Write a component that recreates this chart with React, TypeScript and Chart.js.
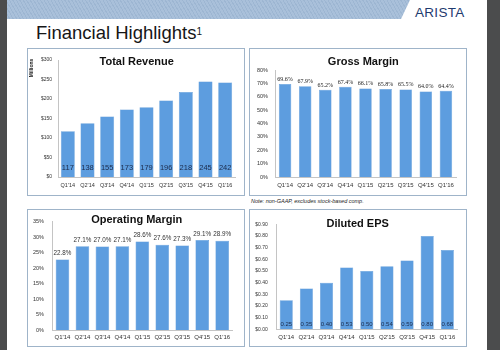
import React, { useEffect, useRef } from "react";
import { Chart, registerables } from "chart.js";

Chart.register(...registerables);

const quarters = ["Q1'14", "Q2'14", "Q3'14", "Q4'14", "Q1'15", "Q2'15", "Q3'15", "Q4'15", "Q1'16"];
const revenue = [117, 138, 155, 173, 179, 196, 218, 245, 242];
const grossMargin = [69.6, 67.9, 65.2, 67.4, 66.1, 65.8, 65.5, 64.0, 64.4];
const operatingMargin = [22.8, 27.1, 27.0, 27.1, 28.6, 27.6, 27.3, 29.1, 28.9];
const dilutedEps = [0.25, 0.35, 0.4, 0.53, 0.5, 0.54, 0.59, 0.8, 0.68];

const BAR = "#5d9ddf";
const AXIS = "#c4c4c4";
const SANS = "Arial, 'Liberation Sans', Helvetica, sans-serif";
const SERIF = "'Liberation Serif', 'Times New Roman', serif";

type Cfg = {
  title: string;
  titleX: number;
  titleY: number;
  data: number[];
  max: number;
  step: number;
  fmtTick: (v: number) => string;
  fmtVal: (v: number) => string;
  inside: boolean;
  valueFont: string;
  valueColor: string;
  valueOffset: number;
  width: number;
  height: number;
  left: number;
  right: number;
  top: number;
  bottom: number;
  xPad: number;
  yPad: number;
  xFont: number;
  yFont: number;
  barPct: number;
  yLabel?: string;
};

function makeOverlay(cfg: Cfg) {
  return {
    id: "overlay",
    afterDatasetsDraw(chart: any) {
      const ctx = chart.ctx;
      ctx.save();
      const meta = chart.getDatasetMeta(0);
      ctx.font = cfg.valueFont;
      ctx.fillStyle = cfg.valueColor;
      ctx.textAlign = "center";
      ctx.textBaseline = "middle";
      meta.data.forEach((bar: any, i: number) => {
        const p = bar.getProps(["x", "y", "base"], true);
        const y = cfg.inside ? p.base - cfg.valueOffset : p.y - cfg.valueOffset;
        ctx.fillText(cfg.fmtVal(cfg.data[i]), p.x, y);
      });
      ctx.font = `bold 11px ${SANS}`;
      ctx.fillStyle = "#111111";
      ctx.fillText(cfg.title, cfg.titleX, cfg.titleY);
      if (cfg.yLabel) {
        ctx.translate(4, 19);
        ctx.rotate(-Math.PI / 2);
        ctx.font = `bold 5px ${SANS}`;
        ctx.fillStyle = "#222222";
        ctx.fillText(cfg.yLabel, 0, 0);
      }
      ctx.restore();
    },
  };
}

function BarPanel({ cfg }: { cfg: Cfg }) {
  const ref = useRef<HTMLCanvasElement | null>(null);
  useEffect(() => {
    if (!ref.current) return;
    const fmtTick = cfg.fmtTick;
    const chart = new Chart(ref.current, {
      type: "bar",
      data: {
        labels: quarters,
        datasets: [
          {
            data: cfg.data,
            backgroundColor: BAR,
            borderColor: "#4f8fd3",
            borderWidth: 0.5,
            barPercentage: cfg.barPct,
            categoryPercentage: 1,
          },
        ],
      },
      options: {
        animation: false,
        responsive: false,
        devicePixelRatio: 1,
        layout: { padding: { left: 0, right: cfg.width - cfg.right, top: cfg.top, bottom: 0 } },
        plugins: {
          legend: { display: false },
          tooltip: { enabled: false },
          title: { display: false },
        },
        scales: {
          x: {
            grid: { display: false, drawTicks: false },
            border: { color: AXIS, width: 1 },
            ticks: {
              padding: cfg.xPad,
              color: "#333333",
              font: { size: cfg.xFont, family: SANS },
              maxRotation: 0,
              autoSkip: false,
            },
            afterFit: (s: any) => {
              s.height = cfg.height - cfg.bottom;
            },
          },
          y: {
            min: 0,
            max: cfg.max,
            grid: { display: false, drawTicks: false },
            border: { color: AXIS, width: 1 },
            ticks: {
              stepSize: cfg.step,
              padding: cfg.yPad,
              color: "#333333",
              font: { size: cfg.yFont, family: SANS },
              callback: (v: any) => fmtTick(Number(v)),
            },
            afterFit: (s: any) => {
              s.width = cfg.left;
            },
          },
        },
      },
      plugins: [makeOverlay(cfg)],
    });
    return () => chart.destroy();
  }, [cfg]);
  return <canvas ref={ref} width={cfg.width} height={cfg.height} style={{ display: "block", width: cfg.width, height: cfg.height }} />;
}

const revenueCfg: Cfg = {
  title: "Total Revenue",
  titleX: 108.7,
  titleY: 12.7,
  data: revenue,
  max: 300,
  step: 50,
  fmtTick: (v) => "$" + v,
  fmtVal: (v) => String(v),
  inside: true,
  valueFont: `7.5px ${SANS}`,
  valueColor: "#1b2a4a",
  valueOffset: 9.4,
  width: 216,
  height: 146,
  left: 30,
  right: 207,
  top: 11,
  bottom: 128,
  xPad: 5,
  yPad: 6,
  xFont: 5.5,
  yFont: 5,
  barPct: 0.71,
  yLabel: "Millions",
};

const grossCfg: Cfg = {
  title: "Gross Margin",
  titleX: 113.3,
  titleY: 12.7,
  data: grossMargin,
  max: 80,
  step: 10,
  fmtTick: (v) => v + "%",
  fmtVal: (v) => v.toFixed(1) + "%",
  inside: false,
  valueFont: `6px ${SERIF}`,
  valueColor: "#222222",
  valueOffset: 4.7,
  width: 216,
  height: 146,
  left: 25,
  right: 206,
  top: 21,
  bottom: 128,
  xPad: 5,
  yPad: 7,
  xFont: 6,
  yFont: 5.5,
  barPct: 0.62,
};

const opCfg: Cfg = {
  title: "Operating Margin",
  titleX: 108.7,
  titleY: 10,
  data: operatingMargin,
  max: 35,
  step: 5,
  fmtTick: (v) => v + "%",
  fmtVal: (v) => v.toFixed(1) + "%",
  inside: false,
  valueFont: `6.3px ${SANS}`,
  valueColor: "#333333",
  valueOffset: 6,
  width: 216,
  height: 136,
  left: 24.5,
  right: 204.2,
  top: 8.3,
  bottom: 120,
  xPad: 3.7,
  yPad: 8.5,
  xFont: 6,
  yFont: 5.5,
  barPct: 0.68,
};

const epsCfg: Cfg = {
  title: "Diluted EPS",
  titleX: 107.7,
  titleY: 14,
  data: dilutedEps,
  max: 0.9,
  step: 0.1,
  fmtTick: (v) => "$" + v.toFixed(2),
  fmtVal: (v) => v.toFixed(2),
  inside: true,
  valueFont: `6px ${SANS}`,
  valueColor: "#1b2a4a",
  valueOffset: 5.3,
  width: 216,
  height: 136,
  left: 26.2,
  right: 207.4,
  top: 14.3,
  bottom: 119.3,
  xPad: 4.4,
  yPad: 8.5,
  xFont: 6,
  yFont: 5,
  barPct: 0.65,
};

const panelStyle = (left: number, top: number, w: number, h: number): React.CSSProperties => ({
  position: "absolute",
  left,
  top,
  width: w,
  height: h,
  border: "1px solid #9fb4c9",
  background: "#ffffff",
  boxSizing: "content-box",
});

export default function App() {
  return (
    <div
      style={{
        position: "fixed",
        left: 0,
        top: 0,
        width: 500,
        height: 350,
        overflow: "hidden",
        background: "#ffffff",
        fontFamily: SANS,
      }}
    >
      <div style={{ position: "absolute", left: 0, top: 0, width: 7, height: 350, background: "#4b4c4d" }} />
      <div style={{ position: "absolute", left: 487, top: 0, width: 13, height: 350, background: "#4b4c4d" }} />
      <div
        style={{
          position: "absolute",
          left: 7,
          top: 0,
          width: 403,
          height: 19,
          background: "repeating-linear-gradient(60deg, #a9c0da 0px, #a9c0da 2px, #9db6d2 2px, #9db6d2 3px)",
          clipPath: "polygon(0 0, 100% 0, calc(100% - 9px) 100%, 0 100%)",
        }}
      />
      <div
        style={{
          position: "absolute",
          left: 415,
          top: 5,
          fontSize: 13.5,
          lineHeight: "15px",
          color: "#1f3b6f",
          letterSpacing: 0.3,
          fontFamily: SANS,
        }}
      >
        ARISTA
      </div>
      <div
        style={{
          position: "absolute",
          left: 36,
          top: 22,
          fontSize: 18.5,
          lineHeight: "22px",
          color: "#161616",
          whiteSpace: "nowrap",
        }}
      >
        Financial Highlights<sup style={{ fontSize: 10, verticalAlign: "top", position: "relative", top: -1 }}>1</sup>
      </div>
      <div style={panelStyle(27, 48, 216, 146)}>
        <BarPanel cfg={revenueCfg} />
      </div>
      <div style={panelStyle(249, 48, 216, 146)}>
        <BarPanel cfg={grossCfg} />
      </div>
      <div
        style={{
          position: "absolute",
          left: 251,
          top: 198,
          fontSize: 5.5,
          fontStyle: "italic",
          color: "#222222",
          whiteSpace: "nowrap",
          lineHeight: "7px",
        }}
      >
        Note: non-GAAP, excludes stock-based comp.
      </div>
      <div style={panelStyle(27, 209, 216, 136)}>
        <BarPanel cfg={opCfg} />
      </div>
      <div style={panelStyle(249, 209, 216, 136)}>
        <BarPanel cfg={epsCfg} />
      </div>
    </div>
  );
}
